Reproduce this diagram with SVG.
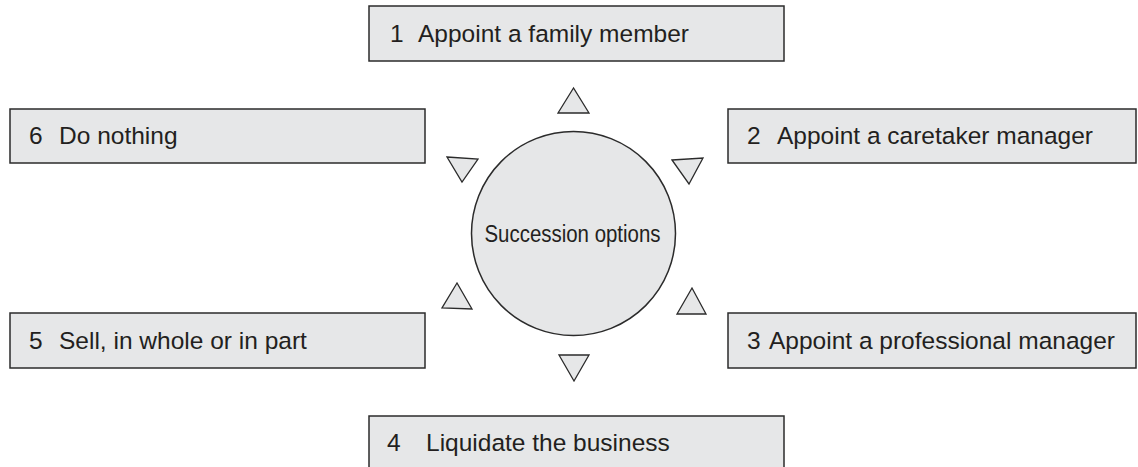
<svg xmlns="http://www.w3.org/2000/svg" width="1138" height="467" viewBox="0 0 1138 467">
  <style>
    .box { fill: #e6e7e8; stroke: #2b2b2b; stroke-width: 1.5; }
    .hub { fill: #e6e7e8; stroke: #2b2b2b; stroke-width: 1.5; }
    .tri { fill: #e6e7e8; stroke: #2b2b2b; stroke-width: 1.3; stroke-linejoin: miter; }
    .label { font-family: "Liberation Sans", Arial, sans-serif; font-size: 24.5px; fill: #231f20; }
    .hubtext { font-family: "Liberation Sans", Arial, sans-serif; font-size: 23.5px; fill: #231f20; }
  </style>
  <rect width="1138" height="467" fill="#ffffff"/>

  <!-- central hub -->
  <g id="hub">
    <circle class="hub" cx="573.5" cy="233.5" r="102"/>
    <text class="hubtext" x="572.5" y="241.5" text-anchor="middle" textLength="176" lengthAdjust="spacingAndGlyphs">Succession options</text>
  </g>

  <!-- option boxes -->
  <g id="option-1">
    <rect class="box" x="369" y="6" width="415" height="55"/>
    <text class="label" x="390" y="42">1</text>
    <text class="label" x="418" y="42">Appoint a family member</text>
  </g>
  <g id="option-2">
    <rect class="box" x="728" y="109" width="408" height="54"/>
    <text class="label" x="747" y="144">2</text>
    <text class="label" x="777" y="144">Appoint a caretaker manager</text>
  </g>
  <g id="option-3">
    <rect class="box" x="728" y="313" width="408" height="55"/>
    <text class="label" x="747" y="349">3</text>
    <text class="label" x="769" y="349">Appoint a professional manager</text>
  </g>
  <g id="option-4">
    <rect class="box" x="369" y="416" width="415" height="60"/>
    <text class="label" x="387" y="451">4</text>
    <text class="label" x="426" y="451">Liquidate the business</text>
  </g>
  <g id="option-5">
    <rect class="box" x="10" y="313" width="415" height="55"/>
    <text class="label" x="29" y="349">5</text>
    <text class="label" x="59" y="349">Sell, in whole or in part</text>
  </g>
  <g id="option-6">
    <rect class="box" x="10" y="109" width="415" height="54"/>
    <text class="label" x="29" y="144">6</text>
    <text class="label" x="59" y="144">Do nothing</text>
  </g>

  <!-- connectors: triangular pointers around the hub -->
  <g id="connectors">
    <polygon class="tri" points="573.5,88 558,113 589,113"/>
    <polygon class="tri" points="447,157 478,159 462,182"/>
    <polygon class="tri" points="672,160 703,158 689,184"/>
    <polygon class="tri" points="457,283 442,308 472,309"/>
    <polygon class="tri" points="692,288 677,314 706,314"/>
    <polygon class="tri" points="559,355 589,355 574,381"/>
  </g>
</svg>
